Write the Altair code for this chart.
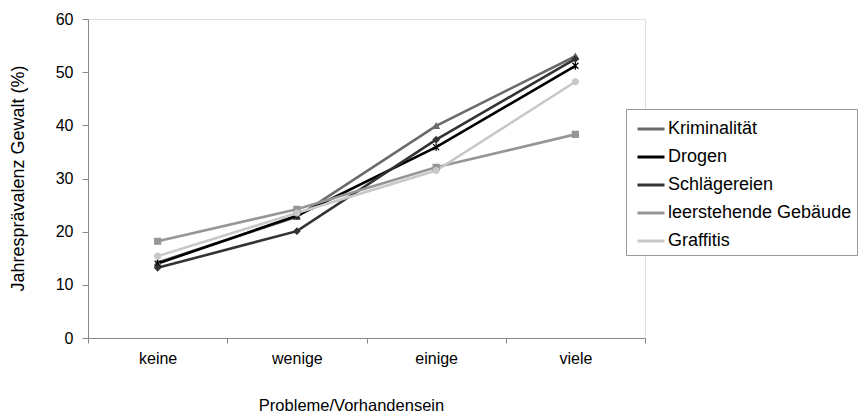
import altair as alt
import pandas as pd

categories = ["keine", "wenige", "einige", "viele"]
series = ["Kriminalität", "Drogen", "Schlägereien", "leerstehende Gebäude", "Graffitis"]
kriminalitaet = [14.2, 22.8, 39.9, 53.0]
drogen = [14.0, 23.0, 35.9, 51.2]
schlaegereien = [13.2, 20.1, 37.3, 52.5]
leerstehende = [18.2, 24.2, 32.1, 38.3]
graffitis = [15.4, 23.5, 31.5, 48.2]

colors = ["#6a6a6a", "#000000", "#333333", "#969696", "#c8c8c8"]
shapes = [
    "triangle-up",
    "M-1,-1L1,1M-1,1L1,-1M0,-1.3L0,1.3",
    "diamond",
    "square",
    "circle",
]

values = [kriminalitaet, drogen, schlaegereien, leerstehende, graffitis]
rows = []
for s, vals in zip(series, values):
    for c, v in zip(categories, vals):
        rows.append({"Kategorie": c, "Serie": s, "Wert": v})
df = pd.DataFrame(rows)

FONT = "Liberation Sans"

x = alt.X(
    "Kategorie:N",
    sort=categories,
    bandPosition=0.5,
    scale=alt.Scale(type="band", paddingInner=0, paddingOuter=0),
    axis=alt.Axis(
        title="Probleme/Vorhandensein",
        labelAngle=0,
        tickBand="extent",
        tickSize=5,
        tickColor="#888888",
        domainColor="#888888",
        labelFontSize=16,
        labelColor="#000000",
        labelPadding=7,
        titleFontSize=16.5,
        titleFontWeight="normal",
        titleColor="#000000",
        titleX=263,
        titleY=72,
        titleBaseline="alphabetic",
        grid=False,
    ),
)
y = alt.Y(
    "Wert:Q",
    scale=alt.Scale(domain=[0, 60], nice=False),
    axis=alt.Axis(
        title="Jahresprävalenz Gewalt (%)",
        values=[0, 10, 20, 30, 40, 50, 60],
        tickSize=6,
        tickColor="#888888",
        domainColor="#888888",
        labelFontSize=16,
        labelColor="#000000",
        labelPadding=9,
        titleFontSize=18,
        titleFontWeight="normal",
        titleColor="#000000",
        titleX=-70,
        titleY=159,
        titleBaseline="middle",
        titleAlign="center",
        grid=False,
    ),
)

color_scale = alt.Scale(domain=series, range=colors)

lines = alt.Chart(df).mark_line(strokeWidth=2.6).encode(
    x=x,
    y=y,
    color=alt.Color(
        "Serie:N",
        scale=color_scale,
        sort=series,
        legend=alt.Legend(
            title=None,
            orient="none",
            legendX=538,
            legendY=90,
            symbolType="stroke",
            symbolSize=729,
            symbolStrokeWidth=3,
            labelFontSize=18,
            labelColor="#000000",
            labelLimit=0,
            labelOffset=2,
            rowPadding=4,
            padding=5,
            symbolOffset=5,
            strokeColor="#999999",
            fillColor="#ffffff",
        ),
    ),
)

points = alt.Chart(df).mark_point(filled=True, size=36, strokeWidth=1.2, opacity=1).encode(
    x=x,
    y=y,
    fill=alt.Fill("Serie:N", scale=alt.Scale(domain=series, range=colors), legend=None),
    stroke=alt.Stroke("Serie:N", scale=alt.Scale(domain=series, range=colors), legend=None),
    shape=alt.Shape("Serie:N", scale=alt.Scale(domain=series, range=shapes), legend=None),
)

chart = (
    alt.layer(lines, points)
    .resolve_legend(color="independent", shape="independent", fill="independent", stroke="independent")
    .properties(
        width=557,
        height=319,
        autosize=alt.AutoSizeParams(type="none"),
        padding={"left": 88, "top": 19, "right": 215, "bottom": 77},
        background="#ffffff",
    )
    .configure_view(stroke=None)
    .configure(font=FONT)
)

chart.save("out.html", embed_options={"renderer": "svg", "actions": False})
